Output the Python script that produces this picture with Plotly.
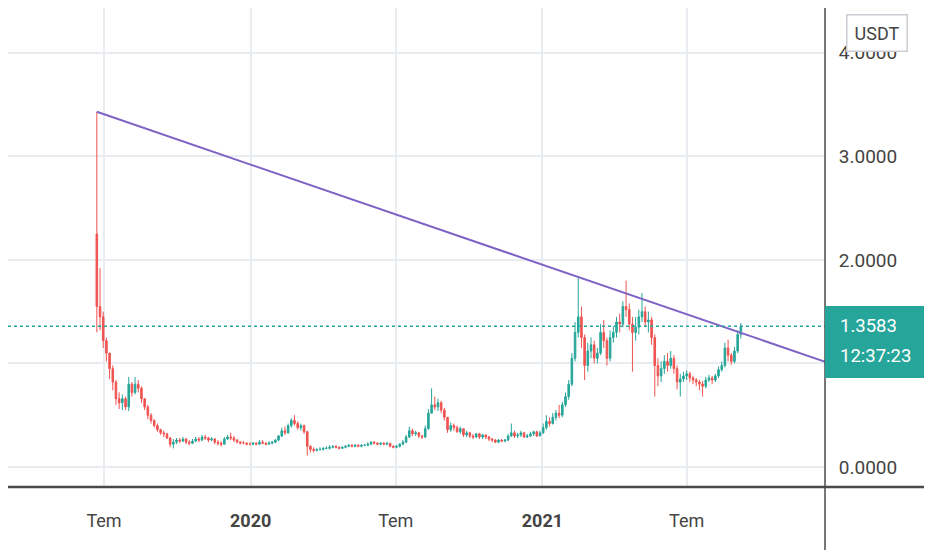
import pandas as pd
import plotly.graph_objects as go

# ALGO/USDT, 4-day candles
start_date = "2019-06-22"
first_open = 2.25

close = [
    1.55, 1.45, 1.22, 1.10, 0.95, 0.82, 0.66, 0.62, 0.66, 0.58,
    0.80, 0.72, 0.80, 0.76, 0.66, 0.58, 0.50, 0.45, 0.40, 0.36,
    0.33, 0.32, 0.28, 0.22, 0.24, 0.26, 0.25, 0.27, 0.24, 0.23,
    0.25, 0.27, 0.26, 0.29, 0.28, 0.26, 0.27, 0.24, 0.23, 0.22,
    0.27, 0.29, 0.28, 0.26, 0.24, 0.23, 0.23, 0.22, 0.22, 0.23,
    0.22, 0.24, 0.23, 0.22, 0.23, 0.24, 0.26, 0.30, 0.35, 0.33,
    0.40, 0.45, 0.42, 0.38, 0.40, 0.34, 0.20, 0.17, 0.16, 0.17,
    0.17, 0.18, 0.18, 0.19, 0.20, 0.19, 0.18, 0.19, 0.20, 0.21,
    0.20, 0.21, 0.20, 0.21, 0.21, 0.22, 0.24, 0.23, 0.22, 0.23,
    0.22, 0.23, 0.20, 0.19, 0.20, 0.22, 0.24, 0.29, 0.35, 0.32,
    0.33, 0.30, 0.29, 0.37, 0.52, 0.60, 0.58, 0.62, 0.55, 0.48,
    0.36, 0.40, 0.38, 0.34, 0.37, 0.31, 0.33, 0.30, 0.29, 0.32,
    0.29, 0.31, 0.29, 0.27, 0.26, 0.24, 0.26, 0.25, 0.26, 0.30,
    0.33, 0.30, 0.31, 0.33, 0.29, 0.30, 0.32, 0.34, 0.30, 0.33,
    0.38, 0.44, 0.42, 0.48, 0.52, 0.50, 0.60, 0.68, 0.80, 1.05,
    1.30, 1.45, 1.25, 0.98, 1.12, 1.18, 1.05, 1.10, 1.30, 1.22,
    1.05, 1.25, 1.30, 1.40, 1.38, 1.55, 1.52, 1.38, 1.30, 1.35,
    1.45, 1.50, 1.40, 1.42, 1.25, 0.98, 0.88, 0.95, 1.02, 0.98,
    1.05, 0.95, 0.82, 0.85, 0.88, 0.90, 0.86, 0.84, 0.82, 0.80,
    0.78, 0.84, 0.86, 0.84, 0.88, 0.94, 0.98, 1.15, 1.08, 1.02,
    1.12, 1.28, 1.3583,
]

high = [
    3.43, 1.92, 1.50, 1.25, 1.10, 0.98, 0.84, 0.72, 0.70, 0.68,
    0.87, 0.82, 0.87, 0.84, 0.78, 0.66, 0.60, 0.52, 0.46, 0.42,
    0.37, 0.35, 0.33, 0.29, 0.27, 0.28, 0.28, 0.29, 0.28, 0.26,
    0.27, 0.29, 0.29, 0.31, 0.31, 0.29, 0.29, 0.28, 0.26, 0.25,
    0.29, 0.31, 0.33, 0.30, 0.27, 0.25, 0.25, 0.24, 0.24, 0.24,
    0.24, 0.26, 0.26, 0.24, 0.25, 0.25, 0.27, 0.31, 0.38, 0.39,
    0.42, 0.47, 0.50, 0.44, 0.42, 0.41, 0.35, 0.21, 0.19, 0.18,
    0.19, 0.19, 0.20, 0.21, 0.21, 0.21, 0.20, 0.20, 0.21, 0.22,
    0.22, 0.22, 0.22, 0.22, 0.22, 0.24, 0.25, 0.25, 0.24, 0.24,
    0.24, 0.24, 0.23, 0.21, 0.21, 0.23, 0.26, 0.31, 0.39, 0.37,
    0.35, 0.34, 0.31, 0.40, 0.56, 0.76, 0.68, 0.66, 0.64, 0.57,
    0.48, 0.43, 0.42, 0.40, 0.39, 0.37, 0.35, 0.34, 0.32, 0.33,
    0.33, 0.32, 0.31, 0.30, 0.28, 0.27, 0.27, 0.27, 0.27, 0.32,
    0.42, 0.35, 0.33, 0.35, 0.34, 0.32, 0.34, 0.35, 0.35, 0.35,
    0.42, 0.50, 0.48, 0.52, 0.55, 0.60, 0.63, 0.72, 0.84, 1.10,
    1.40, 1.83, 1.55, 1.28, 1.20, 1.25, 1.22, 1.15, 1.38, 1.42,
    1.25, 1.32, 1.36, 1.45, 1.48, 1.60, 1.80, 1.58, 1.45, 1.45,
    1.52, 1.68, 1.55, 1.50, 1.45, 1.28, 1.05, 1.02, 1.08, 1.10,
    1.12, 1.08, 0.98, 0.90, 0.92, 0.93, 0.92, 0.88, 0.86, 0.84,
    0.83, 0.87, 0.89, 0.88, 0.90, 0.97, 1.02, 1.20, 1.23, 1.10,
    1.16, 1.32, 1.39,
]

low = [
    1.30, 1.32, 1.15, 1.02, 0.85, 0.74, 0.60, 0.56, 0.55, 0.55,
    0.54, 0.68, 0.70, 0.72, 0.62, 0.55, 0.46, 0.42, 0.38, 0.34,
    0.31, 0.29, 0.27, 0.19, 0.18, 0.22, 0.23, 0.24, 0.22, 0.21,
    0.22, 0.24, 0.24, 0.25, 0.26, 0.24, 0.25, 0.22, 0.21, 0.20,
    0.22, 0.26, 0.26, 0.24, 0.23, 0.22, 0.22, 0.21, 0.21, 0.21,
    0.21, 0.22, 0.22, 0.21, 0.22, 0.22, 0.23, 0.25, 0.29, 0.31,
    0.32, 0.38, 0.40, 0.36, 0.35, 0.32, 0.11, 0.14, 0.14, 0.15,
    0.16, 0.16, 0.17, 0.17, 0.18, 0.18, 0.17, 0.18, 0.18, 0.19,
    0.19, 0.19, 0.19, 0.19, 0.20, 0.20, 0.21, 0.22, 0.21, 0.21,
    0.21, 0.21, 0.19, 0.18, 0.18, 0.19, 0.21, 0.23, 0.28, 0.30,
    0.30, 0.28, 0.27, 0.28, 0.36, 0.52, 0.55, 0.54, 0.52, 0.45,
    0.33, 0.34, 0.35, 0.33, 0.32, 0.29, 0.29, 0.28, 0.27, 0.28,
    0.27, 0.27, 0.27, 0.25, 0.24, 0.23, 0.23, 0.24, 0.24, 0.25,
    0.29, 0.28, 0.28, 0.29, 0.28, 0.28, 0.29, 0.30, 0.29, 0.30,
    0.32, 0.36, 0.39, 0.41, 0.45, 0.47, 0.48, 0.58, 0.65, 0.78,
    1.02, 1.25, 1.15, 0.84, 0.92, 1.05, 1.00, 1.00, 1.08, 1.15,
    0.98, 1.02, 1.20, 1.25, 1.30, 1.35, 1.45, 1.32, 0.92, 1.22,
    1.28, 1.40, 1.35, 1.30, 1.18, 0.68, 0.78, 0.82, 0.90, 0.92,
    0.95, 0.90, 0.75, 0.68, 0.82, 0.84, 0.82, 0.80, 0.78, 0.74,
    0.68, 0.76, 0.82, 0.80, 0.82, 0.86, 0.92, 0.96, 1.02, 0.99,
    1.00, 1.10, 1.24,
]

# trend line drawn from the listing high across the Feb 2021 top
trend_dates = ["2019-06-22", "2022-01-31"]
trend_prices = [3.43, 0.91]

last_price = 1.3583
countdown = "12:37:23"

tick_dates = ["2019-07-01", "2020-01-01", "2020-07-01", "2021-01-01", "2021-07-01"]
tick_text = ["Tem", "<b>2020</b>", "Tem", "<b>2021</b>", "Tem"]

dates = pd.date_range(start_date, periods=len(close), freq="4D")
opens = [first_open] + close[:-1]

UP = "#26a69a"
DOWN = "#ef5350"
TXT = "#444444"

fig = go.Figure()
fig.add_trace(go.Candlestick(
    x=dates, open=opens, high=high, low=low, close=close,
    increasing=dict(line=dict(color=UP, width=1), fillcolor=UP),
    decreasing=dict(line=dict(color=DOWN, width=1), fillcolor=DOWN),
    showlegend=False,
))
fig.add_trace(go.Scatter(
    x=trend_dates, y=trend_prices, mode="lines",
    line=dict(color="#7e62c6", width=2), showlegend=False, hoverinfo="skip",
))

# page body has an 8px margin, so the figure is 8px smaller each way
fig.update_layout(
    width=924, height=542,
    margin=dict(l=0, r=107, t=0, b=63),
    paper_bgcolor="white", plot_bgcolor="white",
    font=dict(family="Roboto", size=18, color=TXT),
    xaxis=dict(
        range=["2019-03-02 13:00", "2021-12-21 14:00"],
        rangeslider=dict(visible=False),
        tickvals=tick_dates, ticktext=tick_text,
        showgrid=True, gridcolor="#e9edf2", gridwidth=1.5,
        ticks="outside", ticklen=17, tickcolor="rgba(0,0,0,0)",
        zeroline=False, showline=False,
        tickfont=dict(size=18),
    ),
    yaxis=dict(
        range=[-0.1931, 4.4326], side="right",
        tickvals=[0, 1, 2, 3, 4], tickformat=".4f",
        showgrid=True, gridcolor="#e9edf2", gridwidth=1.5,
        ticks="outside", ticklen=9, tickcolor="rgba(0,0,0,0)",
        zeroline=False, showline=False,
        tickfont=dict(size=19),
    ),
)

# last price dotted line
fig.add_shape(type="line", xref="paper", x0=0, x1=1, yref="y", y0=last_price, y1=last_price,
              line=dict(color=UP, width=1.5, dash="dot"))
# pane separators
fig.add_shape(type="line", xref="paper", x0=-0.02, x1=1.2, yref="paper", y0=0, y1=0,
              line=dict(color="#4a4a4a", width=2.5))
fig.add_shape(type="line", xref="paper", x0=1, x1=1, yref="paper", y0=-0.2, y1=1.05,
              line=dict(color="#4a4a4a", width=1.5))

# price label box on the axis
fig.add_annotation(
    xref="paper", x=1.0, xanchor="left", yref="y", y=last_price, yanchor="top", yshift=20,
    text="", showarrow=False, width=101, height=70, borderpad=0,
    bgcolor=UP, bordercolor=UP,
)
fig.add_annotation(
    xref="paper", x=1.0, xanchor="left", xshift=13, yref="y", y=last_price, yanchor="middle",
    text=f"{last_price:.4f}", showarrow=False,
    font=dict(color="white", size=18.5, family="Roboto"),
)
fig.add_annotation(
    xref="paper", x=1.0, xanchor="left", xshift=13, yref="y", y=last_price, yanchor="middle",
    yshift=-30, text=countdown, showarrow=False,
    font=dict(color="white", size=18.5, family="Roboto"),
)
fig.add_annotation(
    xref="paper", x=1.0636, xanchor="center", yref="paper", y=0.948, yanchor="middle",
    text="USDT", showarrow=False, width=51, height=27, borderpad=4,
    font=dict(color=TXT, size=18, family="Roboto"),
    bgcolor="white", bordercolor="#c9cdd4", borderwidth=1.5,
)

fig.write_html("out.html")
